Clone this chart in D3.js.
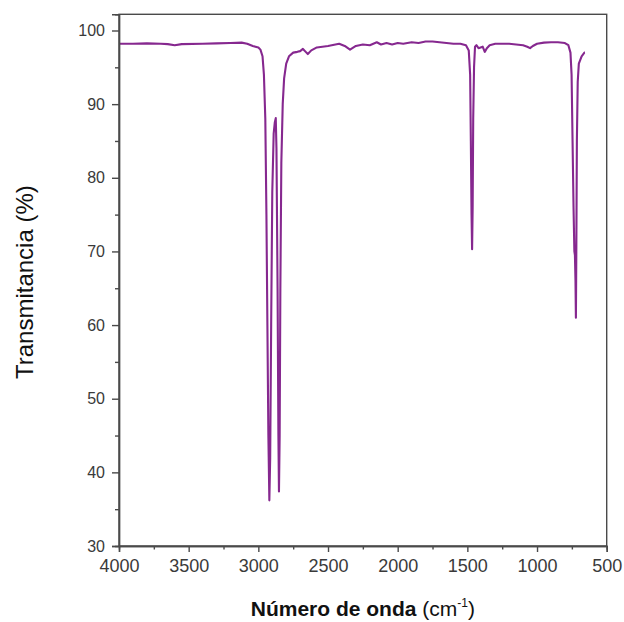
<!DOCTYPE html>
<html>
<head>
<meta charset="utf-8">
<script src="https://cdn.jsdelivr.net/npm/d3@7"></script>
<style>
  html, body { margin: 0; padding: 0; background: #fff; }
  svg { display: block; }
  text { font-family: "Liberation Sans", Arial, sans-serif; }
</style>
</head>
<body>
<div id="chart"></div>
<script>
// Wavenumber (cm-1)
const wavenumber = [4000,3900,3800,3700,3650,3600,3550,3400,3300,3200,3120,3080,3040,3000,2985,2970,2960,2950,2942,2935,2928,2921,2915,2908,2900,2890,2882,2875,2870,2862,2856,2852,2847,2842,2835,2825,2815,2800,2780,2750,2720,2700,2680,2660,2645,2620,2580,2500,2420,2380,2342,2300,2250,2200,2150,2120,2080,2040,2000,1960,1900,1850,1800,1750,1700,1650,1600,1550,1510,1490,1480,1475,1470,1466,1462,1458,1452,1445,1435,1420,1390,1375,1360,1340,1300,1200,1150,1100,1070,1050,1030,1000,950,900,850,800,775,760,752,745,738,732,728,724,721,718,714,708,700,680,660,656];
// Transmittance (%)
const transmittance = [98.2,98.2,98.25,98.2,98.15,98.0,98.15,98.2,98.25,98.3,98.35,98.2,97.9,97.7,97.4,96.5,94,88,75,60,45,36.2,42,60,78,86,87.5,88.1,84,65,45,37.4,45,65,82,90,93.5,95.5,96.5,97,97.1,97.2,97.5,97.1,96.8,97.3,97.7,97.9,98.2,97.9,97.4,97.9,98.1,98.0,98.4,98.1,98.3,98.1,98.3,98.2,98.4,98.3,98.5,98.5,98.4,98.3,98.2,98.2,98.0,97.3,94,85,75,70.3,76,88,95,97.8,98.0,97.6,97.8,97.1,97.6,98.0,98.2,98.2,98.1,98.0,97.8,97.6,97.9,98.2,98.35,98.4,98.4,98.3,98.0,97.0,94,85,76,70,69.5,66,61,70,85,93,95.5,96.5,97.0,97.0];
const xTicks = [4000,3500,3000,2500,2000,1500,1000,500];
const xMinor = [3750,3250,2750,2250,1750,1250,750];
const yTicks = [30,40,50,60,70,80,90,100];
const yMinor = [35,45,55,65,75,85,95];
const xDomain = [4000, 500];
const yDomain = [30, 102.2];

const W = 624, H = 622;
const m = {left: 119, right: 17.3, top: 14.3, bottom: 76};
const iw = W - m.left - m.right, ih = H - m.top - m.bottom;

const svg = d3.select("#chart").append("svg").attr("width", W).attr("height", H);
const g = svg.append("g").attr("transform", `translate(${m.left},${m.top})`);

const x = d3.scaleLinear().domain(xDomain).range([0, iw]);
const y = d3.scaleLinear().domain(yDomain).range([ih, 0]);

const data = wavenumber.map((w, i) => ({w, t: transmittance[i]}));

// frame
g.append("rect").attr("x", 0).attr("y", 0).attr("width", iw).attr("height", ih)
  .attr("fill", "none").attr("stroke", "#4a4a4a").attr("stroke-width", 1.4);

// line
g.append("path").datum(data)
  .attr("fill", "none").attr("stroke", "#86288f").attr("stroke-width", 2.1)
  .attr("stroke-linejoin", "round")
  .attr("d", d3.line().x(d => x(d.w)).y(d => y(d.t)));

// axes
const xAxis = g.append("g").attr("transform", `translate(0,${ih})`)
  .call(d3.axisBottom(x).tickValues(xTicks).tickSize(6).tickPadding(7).tickFormat(d3.format("d")));
const xAxisMinor = g.append("g").attr("transform", `translate(0,${ih})`)
  .call(d3.axisBottom(x).tickValues(xMinor).tickSize(3.5).tickFormat(""));
const yAxis = g.append("g")
  .call(d3.axisLeft(y).tickValues(yTicks).tickSize(7).tickPadding(7).tickFormat(d3.format("d")));
const yAxisMinor = g.append("g")
  .call(d3.axisLeft(y).tickValues(yMinor).tickSize(4).tickFormat(""));

[xAxis, xAxisMinor, yAxis, yAxisMinor].forEach(a => {
  a.select(".domain").attr("stroke", "#4a4a4a").attr("stroke-width", 1.4);
  a.selectAll(".tick line").attr("stroke", "#4a4a4a").attr("stroke-width", 1.4);
  a.selectAll(".tick text").attr("fill", "#3a3a3a")
    .attr("font-family", "'Liberation Sans', Arial, sans-serif");
});
xAxis.selectAll(".tick text").attr("font-size", 18);
yAxis.selectAll(".tick text").attr("font-size", 16);

// axis titles
const xt = svg.append("text")
  .attr("x", m.left + iw / 2 + 0).attr("y", 616)
  .attr("text-anchor", "middle").attr("fill", "#111").attr("font-size", 21);
xt.append("tspan").attr("font-weight", "bold").text("Número de onda");
xt.append("tspan").text(" (cm");
xt.append("tspan").attr("font-size", 12).attr("dy", -9).text("-1");
xt.append("tspan").attr("dy", 9).text(")");

svg.append("text")
  .attr("transform", `translate(33,${m.top + ih / 2 + 2}) rotate(-90)`)
  .attr("text-anchor", "middle").attr("fill", "#111").attr("font-size", 24)
  .text("Transmitancia (%)");
</script>
</body>
</html>
